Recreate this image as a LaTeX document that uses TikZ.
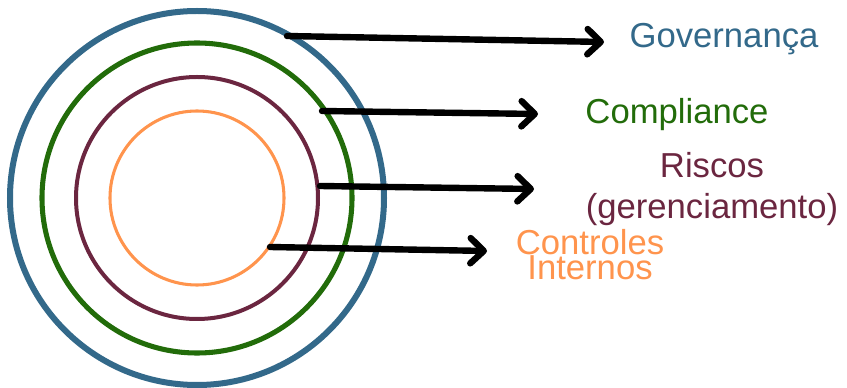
\documentclass[tikz,border=0pt]{standalone}
\usepackage{fontspec}
\setmainfont{Liberation Sans}
\usetikzlibrary{arrows.meta}
\definecolor{gov}{HTML}{33698A}
\definecolor{comp}{HTML}{226C0A}
\definecolor{risco}{HTML}{6B2640}
\definecolor{ctrl}{HTML}{FF944D}

\begin{document}
\begin{tikzpicture}[x=0.75pt,y=-0.75pt,
    seta/.style={line width=4.8pt,line cap=round,
      -{Straight Barb[length=10pt,width=19pt,line cap=round,line join=round]}},
    rotulo/.style={font=\fontsize{26}{17}\selectfont,inner sep=0pt,align=center}]
                \useasboundingbox (0,0) rectangle (847,388);
                % circulos
                \draw[gov,line width=4.5pt] (197,198) circle[radius=187];
                \draw[comp,line width=3.8pt] (197,198) circle[radius=155];
                \draw[risco,line width=3pt] (197,198) circle[radius=121];
                \draw[ctrl,line width=2.3pt] (197,198) circle[radius=87];
                % rotulos
                \node[rotulo,text=gov,anchor=base] (gov) at (724,48) {Governança};
                \node[rotulo,text=comp,anchor=base] (comp) at (677,124) {Compliance};
                \node[rotulo,text=risco,anchor=base,font=\fontsize{26}{31}\selectfont] (risco) at (712,219) {Riscos\\(gerenciamento)};
                \node[rotulo,text=ctrl,anchor=base] (ctrl) at (590,280) {Controles\\Internos};
                % setas
                \coordinate (g1) at (287,36);  \coordinate (g2) at (604,42);
                \coordinate (c1) at (322,111); \coordinate (c2) at (538,114);
                \coordinate (r1) at (320,186); \coordinate (r2) at (534,189);
                \coordinate (i1) at (270,247); \coordinate (i2) at (487,251);
                \draw[seta] (g1) -- (g2);
                \draw[seta] (c1) -- (c2);
                \draw[seta] (r1) -- (r2);
                \draw[seta] (i1) -- (i2);
            \end{tikzpicture}
\end{document}
